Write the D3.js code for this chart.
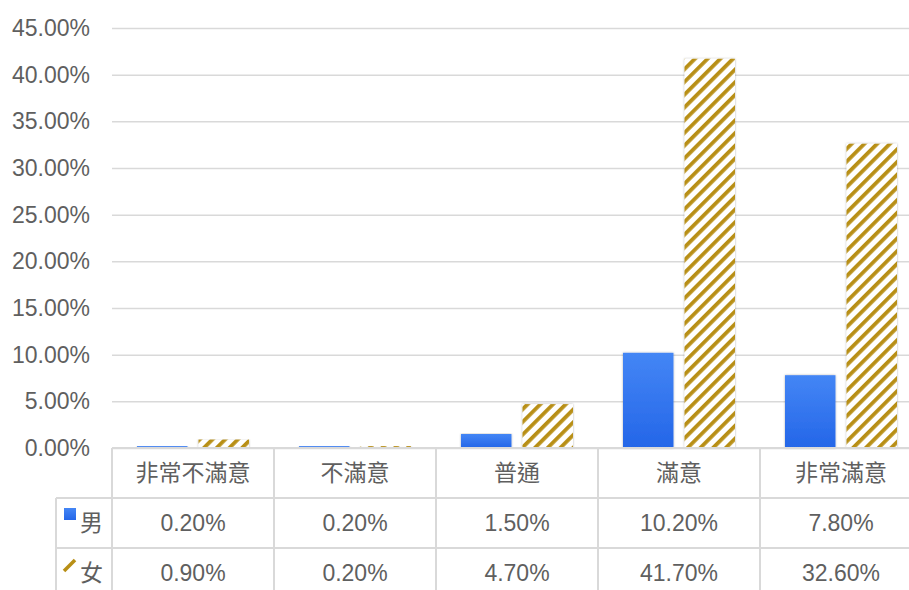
<!DOCTYPE html>
<html>
<head>
<meta charset="utf-8">
<script src="https://cdn.jsdelivr.net/npm/d3@7"></script>
<style>
  body { margin: 0; background: #fff; }
  text { font-family: "Liberation Sans", Arial, "Noto Sans CJK TC", sans-serif; fill: #5f5f5f; }
</style>
</head>
<body>
<svg width="909" height="590"></svg>
<script>
const categories = ['非常不滿意', '不滿意', '普通', '滿意', '非常滿意'];
const seriesNames = ['男', '女'];
const maleValues = [0.2, 0.2, 1.5, 10.2, 7.8];
const femaleValues = [0.9, 0.2, 4.7, 41.7, 32.6];
const yTicks = [0, 5, 10, 15, 20, 25, 30, 35, 40, 45];

const svg = d3.select('svg');
const width = +svg.attr('width');
const height = +svg.attr('height');

const plotLeft = 112;
const plotTop = 28;
const plotBottom = 448;
const colWidth = 162;
const rowH = 50;
const gridColor = '#d9d9d9';
const numFont = 23;
const cjkFont = 23;

const defs = svg.append('defs');
const grad = defs.append('linearGradient')
    .attr('id', 'blueGrad')
    .attr('x1', 0).attr('y1', 0).attr('x2', 0).attr('y2', 1);
grad.append('stop').attr('offset', '0%').attr('stop-color', '#4486f5');
grad.append('stop').attr('offset', '100%').attr('stop-color', '#2466e8');

const hatch = defs.append('pattern')
    .attr('id', 'hatch')
    .attr('patternUnits', 'userSpaceOnUse')
    .attr('width', 9).attr('height', 9)
    .attr('patternTransform', 'rotate(45)');
hatch.append('rect').attr('width', 9).attr('height', 9).attr('fill', '#fff');
hatch.append('rect').attr('width', 3.8).attr('height', 9).attr('fill', '#b88f16');

const shadow = defs.append('filter').attr('id', 'shadow')
    .attr('x', '-20%').attr('y', '-5%').attr('width', '140%').attr('height', '110%');
shadow.append('feDropShadow')
    .attr('dx', 0).attr('dy', 0).attr('stdDeviation', 1.2)
    .attr('flood-color', '#000').attr('flood-opacity', 0.3);

const xScale = d3.scaleBand()
    .domain(categories)
    .range([plotLeft, plotLeft + colWidth * categories.length]);

const subScale = d3.scaleBand()
    .domain(seriesNames)
    .range([25, colWidth - 25])
    .paddingInner(0.18);

const yScale = d3.scaleLinear()
    .domain([0, 45])
    .range([plotBottom, plotTop]);

// gridlines + tick labels
const yAxis = d3.axisLeft(yScale)
    .tickValues(yTicks)
    .tickSize(-(width - plotLeft))
    .tickFormat(d => d.toFixed(2) + '%');

const yAxisG = svg.append('g')
    .attr('transform', `translate(${plotLeft},0)`)
    .call(yAxis);
yAxisG.select('.domain').remove();
yAxisG.selectAll('.tick line').attr('stroke', gridColor).attr('stroke-width', 1.5);
yAxisG.selectAll('.tick text')
    .attr('font-size', numFont)
    .attr('x', -22)
    .style('font-family', '"Liberation Sans", Arial, sans-serif')
    .attr('fill', '#5f5f5f');

// bars
const series = [
  { name: '男', values: maleValues, fill: 'url(#blueGrad)' },
  { name: '女', values: femaleValues, fill: 'url(#hatch)' }
];

series.forEach(s => {
  svg.append('g').selectAll('rect')
    .data(categories)
    .enter().append('rect')
      .attr('x', d => xScale(d) + subScale(s.name))
      .attr('width', subScale.bandwidth())
      .attr('y', (d, i) => yScale(s.values[i]))
      .attr('height', (d, i) => yScale(0) - yScale(s.values[i]))
      .attr('fill', s.fill)
      .attr('filter', 'url(#shadow)');
});

// data table
const table = svg.append('g');
const tableRight = width;
const legendLeft = 56;

table.append('line')
  .attr('x1', plotLeft).attr('x2', tableRight)
  .attr('y1', plotBottom).attr('y2', plotBottom)
  .attr('stroke', gridColor).attr('stroke-width', 2);

[1, 2].forEach(r => {
  table.append('line')
    .attr('x1', legendLeft).attr('x2', tableRight)
    .attr('y1', plotBottom + rowH * r).attr('y2', plotBottom + rowH * r)
    .attr('stroke', gridColor).attr('stroke-width', 2);
});

table.append('line')
  .attr('x1', legendLeft).attr('x2', legendLeft)
  .attr('y1', plotBottom + rowH).attr('y2', height)
  .attr('stroke', gridColor).attr('stroke-width', 2);

table.selectAll('.vline')
  .data(categories)
  .enter().append('line')
    .attr('class', 'vline')
    .attr('x1', d => xScale(d)).attr('x2', d => xScale(d))
    .attr('y1', plotBottom).attr('y2', height)
    .attr('stroke', gridColor).attr('stroke-width', 2);

table.selectAll('.cat')
  .data(categories)
  .enter().append('text')
    .attr('class', 'cat')
    .attr('x', d => xScale(d) + colWidth / 2)
    .attr('y', plotBottom + rowH / 2 + 8)
    .attr('text-anchor', 'middle')
    .attr('font-size', cjkFont)
    .style('font-family', '"Noto Sans CJK TC", sans-serif')
    .text(d => d);

series.forEach((s, si) => {
  const cy = plotBottom + rowH * (si + 1) + rowH / 2;
  table.selectAll('.val' + si)
    .data(categories)
    .enter().append('text')
      .attr('x', d => xScale(d) + colWidth / 2)
      .attr('y', cy + 8)
      .attr('text-anchor', 'middle')
      .attr('font-size', numFont)
      .text((d, i) => s.values[i].toFixed(2) + '%');

  table.append('text')
    .attr('x', 80)
    .attr('y', cy + 8)
    .attr('font-size', cjkFont)
    .style('font-family', '"Noto Sans CJK TC", sans-serif')
    .text(s.name);
});

// legend keys
table.append('rect')
  .attr('x', 64).attr('y', plotBottom + rowH + 10)
  .attr('width', 12).attr('height', 12)
  .attr('fill', 'url(#blueGrad)');
table.append('line')
  .attr('x1', 64).attr('y1', plotBottom + rowH * 2 + 23)
  .attr('x2', 75).attr('y2', plotBottom + rowH * 2 + 12)
  .attr('stroke', '#b88f16').attr('stroke-width', 3.5);
</script>
</body>
</html>
